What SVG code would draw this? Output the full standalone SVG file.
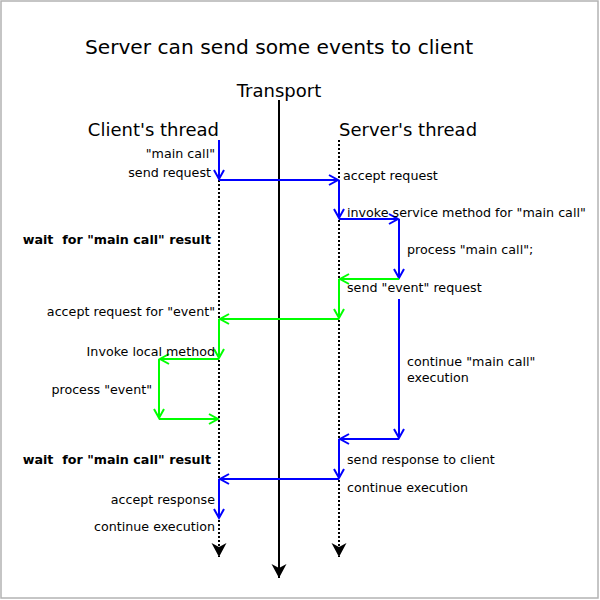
<svg xmlns="http://www.w3.org/2000/svg" width="600" height="600" viewBox="0 0 600 600">
<style>
text{font-family:"DejaVu Sans","Liberation Sans",sans-serif;fill:#000;white-space:pre}
.t{font-size:12.7px}
.b{font-size:12.7px;font-weight:bold}
.r{text-anchor:end}
.life{stroke:#000;stroke-width:2;stroke-dasharray:2,2;fill:none}
.blue{stroke:#0000ff;stroke-width:2;fill:none;marker-end:url(#ab)}
.green{stroke:#00ff00;stroke-width:2;fill:none;marker-end:url(#ag)}
</style>
<defs>
<marker id="ab" markerUnits="userSpaceOnUse" markerWidth="20" markerHeight="20" refX="0" refY="0" orient="auto" overflow="visible">
<path d="M-9,-5 L0,0 L-9,5" fill="none" stroke="#0000ff" stroke-width="2"/>
</marker>
<marker id="ag" markerUnits="userSpaceOnUse" markerWidth="20" markerHeight="20" refX="0" refY="0" orient="auto" overflow="visible">
<path d="M-9,-5 L0,0 L-9,5" fill="none" stroke="#00ff00" stroke-width="2"/>
</marker>
<marker id="ak" markerUnits="userSpaceOnUse" markerWidth="24" markerHeight="24" refX="0" refY="0" orient="auto" overflow="visible">
<path d="M0,0 L-14,-7.5 L-10,0 L-14,7.5 Z" fill="#000"/>
</marker>
</defs>
<rect x="1" y="1" width="597" height="597" fill="#fff" stroke="#b3b3b3" stroke-width="1.5"/>
<text x="279" y="54" font-size="20.2" text-anchor="middle">Server can send some events to client</text>

<g id="transport">
<text x="279" y="97" font-size="18" text-anchor="middle">Transport</text>
</g>
<g id="client">
<text x="219" y="136" font-size="18" class="r">Client's thread</text>
</g>
<g id="server">
<text x="339" y="136" font-size="18">Server's thread</text>
</g>

<g id="connectors">
<line x1="279" y1="100" x2="279" y2="578" stroke="#000" stroke-width="2" marker-end="url(#ak)"/>
<line class="life" x1="219" y1="180" x2="219" y2="557" marker-end="url(#ak)"/>
<line class="life" x1="339" y1="140" x2="339" y2="557" marker-end="url(#ak)"/>

<line class="blue" x1="219" y1="140" x2="219" y2="179"/>
<line class="blue" x1="219" y1="180" x2="338" y2="180"/>
<line class="blue" x1="339" y1="180" x2="339" y2="218"/>
<line class="blue" x1="339" y1="219" x2="398" y2="219"/>
<line class="blue" x1="399" y1="219" x2="399" y2="278"/>
<line class="green" x1="399" y1="279" x2="340" y2="279"/>
<line class="green" x1="339" y1="279" x2="339" y2="318"/>
<line class="green" x1="339" y1="319" x2="220" y2="319"/>
<line class="green" x1="219" y1="319" x2="219" y2="358"/>
<line class="green" x1="219" y1="359" x2="160" y2="359"/>
<line class="green" x1="159" y1="359" x2="159" y2="418"/>
<line class="green" x1="159" y1="419" x2="218" y2="419"/>
<line class="blue" x1="399" y1="299" x2="399" y2="438"/>
<line class="blue" x1="399" y1="439" x2="340" y2="439"/>
<line class="blue" x1="339" y1="439" x2="339" y2="478"/>
<line class="blue" x1="339" y1="479" x2="220" y2="479"/>
<line class="blue" x1="219" y1="479" x2="219" y2="518"/>
</g>

<g id="labels-client">
<text class="t r" x="215" y="158">"main call"</text>
<text class="t r" x="211" y="177">send request</text>
<text class="b r" x="211" y="244">wait  for "main call" result</text>
<text class="t r" x="215" y="316">accept request for "event"</text>
<text class="t r" x="215" y="356">Invoke local method</text>
<text class="t r" x="152" y="394">process "event"</text>
<text class="b r" x="211" y="464">wait  for "main call" result</text>
<text class="t r" x="215" y="504">accept response</text>
<text class="t r" x="215" y="531">continue execution</text>
</g>
<g id="labels-server">
<text class="t" x="343" y="180">accept request</text>
<text class="t" x="347" y="217">invoke service method for "main call"</text>
<text class="t" x="407" y="254">process "main call";</text>
<text class="t" x="347" y="292">send "event" request</text>
<text class="t" x="407" y="366">continue "main call"</text>
<text class="t" x="407" y="382">execution</text>
<text class="t" x="347" y="464">send response to client</text>
<text class="t" x="347" y="492">continue execution</text>
</g>
</svg>
